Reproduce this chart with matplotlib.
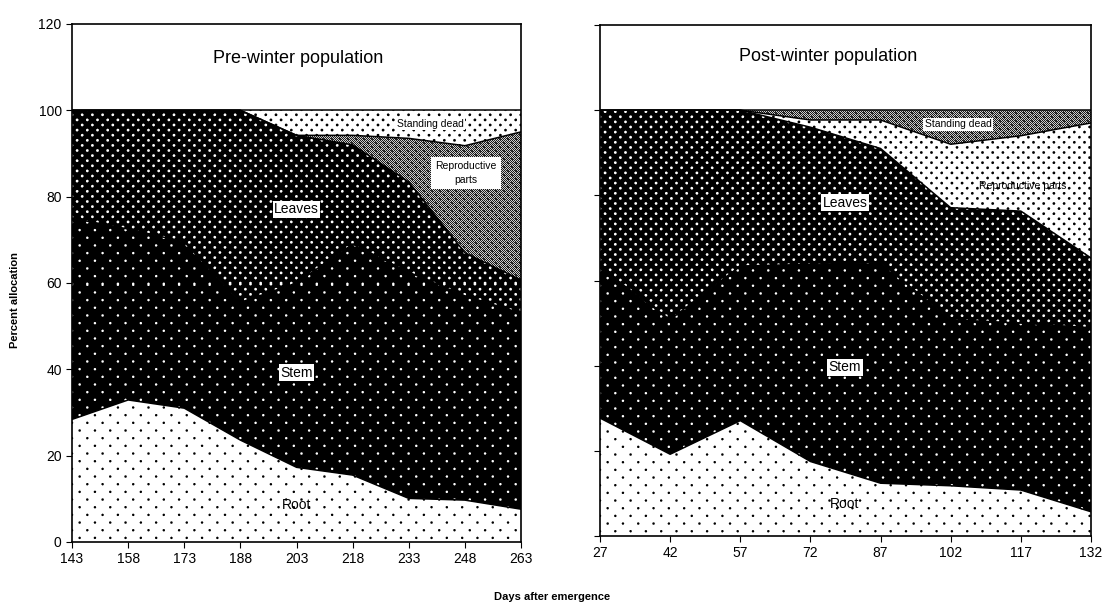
import numpy as np
import matplotlib
matplotlib.use('Agg')
import matplotlib.pyplot as plt

plt.rcParams['font.family'] = ['Liberation Sans', 'DejaVu Sans']

# pre-winter population
pre_days = [143, 158, 173, 188, 203, 218, 233, 248, 263]
pre_root = [28.4, 32.9, 31.0, 23.6, 17.3, 15.5, 10.1, 9.7, 7.6]
pre_stem = [46.6, 39.6, 38.5, 31.9, 42.7, 53.5, 52.4, 47.3, 45.4]
pre_leaves = [25.0, 27.5, 30.5, 44.5, 34.2, 23.0, 20.9, 10.0, 7.7]
pre_repro = [0, 0, 0, 0, 0, 2.2, 10.1, 24.8, 34.3]
pre_dead = [0, 0, 0, 0, 5.8, 5.8, 6.5, 8.2, 5.0]

# post-winter population
post_days = [27, 42, 57, 72, 87, 102, 117, 132]
post_root = [27.7, 19.2, 27.1, 17.5, 12.4, 11.8, 10.8, 5.7]
post_stem = [35.3, 31.6, 36.3, 46.3, 51.8, 39.0, 39.2, 43.2]
post_leaves = [37.0, 49.2, 36.6, 32.2, 26.8, 26.3, 26.3, 16.4]
post_repro = [0, 0, 0, 1.7, 6.7, 14.9, 17.7, 31.7]
post_dead = [0, 0, 0, 2.3, 2.3, 8.0, 6.0, 3.0]


def dots(h, w, px, py, r, fg, bg):
    # staggered dot lattice, px apart in a row, rows py apart
    yy, xx = np.mgrid[0:h, 0:w] + 0.5
    row = np.round(yy / py)
    off = (row % 2) * px / 2
    k = np.round((xx - off) / px)
    d = np.hypot(xx - off - k * px, yy - row * py)
    a = np.clip(r + 0.5 - d, 0, 1)
    return bg * (1 - a) + fg * a


def checker(h, w):
    yy, xx = np.mgrid[0:h, 0:w]
    base = np.where((xx + yy) % 2 == 0, 0.8, 0.1)
    crosses = dots(h, w, 8.0, 4.0, 1.0, 0.0, 1.0)
    return np.minimum(base, crosses)


STYLES = {
    'sparse_white': lambda h, w: dots(h, w, 15.3, 7.67, 1.2, 0.0, 1.0),
    'sparse_black': lambda h, w: dots(h, w, 15.3, 7.67, 1.2, 1.0, 0.0),
    'dense_black': lambda h, w: dots(h, w, 10.2, 5.1, 1.35, 1.0, 0.0),
    'dense_white': lambda h, w: dots(h, w, 10.2, 5.1, 1.35, 0.0, 1.0),
    'checker': checker,
}


def draw_panel(fig, ax, days, layers, styles):
    days = np.array(days)
    tops = np.cumsum(np.array(layers, dtype=float), axis=0)
    ax.set_xlim(days[0], days[-1])
    ax.set_ylim(0, 120)
    pos = ax.get_position()
    W = int(round(pos.width * fig.bbox.width))
    H = int(round(pos.height * fig.bbox.height))
    bottom = np.zeros(len(days))
    for top, st in zip(tops, styles):
        coll = ax.fill_between(days, bottom, top, facecolor='none', linewidth=0)
        img = STYLES[st](H, W)
        im = ax.imshow(img, cmap='gray', vmin=0, vmax=1, origin='upper',
                       extent=(days[0], days[-1], 0, 120), aspect='auto',
                       interpolation='nearest', zorder=1)
        im.set_clip_path(coll.get_paths()[0], ax.transData)
        bottom = top
    for top in tops[:-1]:
        ax.plot(days, top, color='black', lw=1.1, zorder=3)
    ax.set_xlim(days[0], days[-1])
    ax.set_ylim(0, 120)
    ax.set_xticks(days)
    ax.set_yticks(range(0, 121, 20))
    ax.tick_params(direction='out', length=4, labelsize=10)
    ax.axhline(100, color='black', lw=1.1, zorder=3)
    for s in ax.spines.values():
        s.set_linewidth(1.2)
        s.set_zorder(4)


fig = plt.figure(figsize=(11.05, 6.1), dpi=100)
ax1 = fig.add_axes([0.0652, 0.1115, 0.4063, 0.8492])
ax2 = fig.add_axes([0.5430, 0.1213, 0.4443, 0.8377])

draw_panel(fig, ax1, pre_days, [pre_root, pre_stem, pre_leaves, pre_repro, pre_dead],
           ['sparse_white', 'sparse_black', 'dense_black', 'checker', 'dense_white'])
draw_panel(fig, ax2, post_days, [post_root, post_stem, post_leaves, post_repro, post_dead],
           ['sparse_white', 'sparse_black', 'dense_black', 'dense_white', 'checker'])
ax2.set_yticklabels([])

box = dict(facecolor='white', edgecolor='none', pad=1)
ax1.text(203.4, 112, 'Pre-winter population', ha='center', va='center', fontsize=13, zorder=5)
ax1.text(203, 77.1, 'Leaves', ha='center', va='center', fontsize=10, bbox=box, zorder=5)
ax1.text(203, 39.2, 'Stem', ha='center', va='center', fontsize=10, bbox=box, zorder=5)
ax1.text(203, 8.6, 'Root', ha='center', va='center', fontsize=10, zorder=5)
ax1.text(238.7, 96.8, 'Standing dead', ha='center', va='center', fontsize=7.5, bbox=box, zorder=5)
ax1.text(248.3, 85.5, 'Reproductive\nparts', ha='center', va='center', fontsize=7.5,
         linespacing=1.5, bbox=dict(facecolor='white', edgecolor='none', pad=3), zorder=5)

ax2.text(75.8, 112.5, 'Post-winter population', ha='center', va='center', fontsize=13, zorder=5)
ax2.text(79.4, 78.3, 'Leaves', ha='center', va='center', fontsize=10, bbox=box, zorder=5)
ax2.text(79.4, 39.6, 'Stem', ha='center', va='center', fontsize=10, bbox=box, zorder=5)
ax2.text(79.4, 7.5, 'Root', ha='center', va='center', fontsize=10, zorder=5)
ax2.text(103.6, 96.7, 'Standing dead', ha='center', va='center', fontsize=7.5, bbox=box, zorder=5)
ax2.text(117.5, 82.2, 'Reproductive parts', ha='center', va='center', fontsize=7.5, zorder=5)

fig.text(0.0136, 0.508, 'Percent allocation', rotation=90, ha='center', va='center',
         fontsize=8, fontweight='bold')
fig.text(0.5, 0.021, 'Days after emergence', ha='center', va='center',
         fontsize=8, fontweight='bold')

fig.savefig('out.png', dpi=100)
